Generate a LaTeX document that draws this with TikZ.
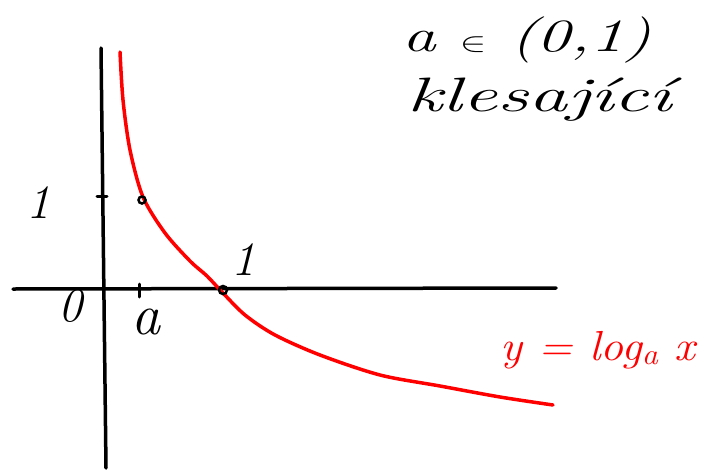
\documentclass[tikz,border=0pt]{standalone}
\usepackage{fontspec}
\begin{document}
\begin{tikzpicture}[x=1pt,y=-1pt,
  axis/.style={line width=3.5pt,line cap=round},
  curve/.style={red,line width=3.5pt,line cap=round,line join=round},
  lbl/.style={font=\fontsize{48}{52}\selectfont\itshape,inner sep=0pt},
  redlbl/.style={lbl,red}]
\useasboundingbox (0,0) rectangle (714,471);
\fill[white] (0,0) rectangle (714,471);
% axes
\coordinate (xl) at (13,289);
\coordinate (xr) at (556,288);
\coordinate (yt) at (101,48);
\coordinate (yb) at (106,468);
\draw[axis] (xl) -- (xr);
\draw[axis] (yt) -- (yb);
% ticks
\coordinate (ty1) at (97,196);
\coordinate (ty2) at (107,196);
\draw[axis,line width=3pt] (ty1) -- (ty2);
\coordinate (tx1) at (139,284);
\coordinate (tx2) at (139,297);
\draw[axis,line width=3pt] (tx1) -- (tx2);
% curve
\draw[curve] plot[smooth,tension=0.5] coordinates {(120,52) (123,100) (130,150) (143,197) (165,233) (190,261) (207,276) (222,292) (245,315) (275,335) (320,355) (380,375) (440,386) (500,397) (553,405)};
% small circles
\node[draw,circle,line width=2.5pt,minimum size=7pt,inner sep=0pt] (p1) at (142,200) {};
\node[draw,circle,line width=2.5pt,minimum size=8pt,inner sep=0pt] (p2) at (223,290) {};
% labels
\node[lbl] (one) at (38,203) {1};
\node[lbl] (zero) at (70,306) {0};
\node[lbl,font=\fontsize{58}{62}\selectfont\itshape] (a) at (146,322) {a};
\node[lbl] (onex) at (243,260) {1};
\node[redlbl,font=\fontsize{40}{44}\selectfont\itshape] (f) at (598,350) {\scalebox{1.15}[1.05]{y = log\textsubscript{a} x}};
\node[lbl,font=\fontsize{42}{46}\selectfont\itshape] (cond) at (527,40) {\scalebox{1.6}[1.1]{a $\in$ (0,1)}};
\node[lbl,font=\fontsize{42}{46}\selectfont\itshape] (kl) at (540,100) {\scalebox{1.85}[1.15]{klesající}};
\end{tikzpicture}
\end{document}
